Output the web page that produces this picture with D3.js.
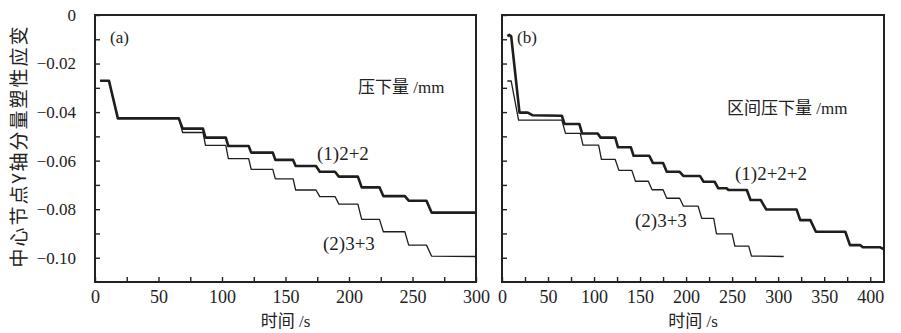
<!DOCTYPE html>
<html>
<head>
<meta charset="utf-8">
<script src="https://cdn.jsdelivr.net/npm/d3@7"></script>
<style>
  body { margin: 0; background: #fff; }
  svg { font-family: 'Liberation Serif', 'Times New Roman', serif; }
  text { fill: #222; }
</style>
</head>
<body>
<div id="chart"></div>
<script>
// panel (a): both runs step at the same times
const timeA = [4, 11, 18, 66, 69, 85, 87, 103, 105, 121, 123, 140, 142, 156, 158, 174, 177, 189, 192, 207, 210, 224, 227, 244, 247, 261, 265, 300];
const strainA22 = [-0.0271, -0.0271, -0.0426, -0.0426, -0.0468, -0.0468, -0.0505, -0.0505, -0.0540, -0.0540, -0.0567, -0.0567, -0.0597, -0.0597, -0.0622, -0.0622, -0.0646, -0.0646, -0.0666, -0.0666, -0.0710, -0.0710, -0.0746, -0.0746, -0.0765, -0.0765, -0.0814, -0.0814];
const strainA33 = [-0.0271, -0.0271, -0.0426, -0.0426, -0.0484, -0.0484, -0.0537, -0.0537, -0.0592, -0.0592, -0.0636, -0.0636, -0.0675, -0.0675, -0.0721, -0.0721, -0.0748, -0.0748, -0.0779, -0.0779, -0.0842, -0.0842, -0.0893, -0.0893, -0.0948, -0.0948, -0.0993, -0.0995];

// panel (b)
const timeB222 = [5.8, 8, 10, 19, 28, 33, 65, 68, 84, 87, 104, 107, 123, 126, 140, 143, 160, 164, 175, 179, 193, 197, 215, 219, 231, 235, 244, 246, 266, 270, 281, 287, 320, 324, 335, 341, 373, 378, 389, 392, 411, 415];
const strainB222 = [-0.0087, -0.0082, -0.0088, -0.0402, -0.0402, -0.0413, -0.0415, -0.0449, -0.0449, -0.0488, -0.0488, -0.0505, -0.0505, -0.0545, -0.0545, -0.0580, -0.0580, -0.0610, -0.0610, -0.0646, -0.0646, -0.0663, -0.0663, -0.0687, -0.0687, -0.0714, -0.0714, -0.0721, -0.0721, -0.0762, -0.0762, -0.0801, -0.0801, -0.0845, -0.0845, -0.0893, -0.0893, -0.0948, -0.0948, -0.0957, -0.0957, -0.0965];
const timeB33 = [5.8, 10, 18, 65, 69, 85, 88, 105, 108, 123, 127, 141, 145, 159, 163, 175, 179, 193, 197, 213, 217, 230, 233, 250, 253, 268, 271, 306];
const strainB33 = [-0.0272, -0.0272, -0.0433, -0.0433, -0.0488, -0.0488, -0.0536, -0.0536, -0.0595, -0.0595, -0.0640, -0.0640, -0.0685, -0.0685, -0.0720, -0.0720, -0.0755, -0.0755, -0.0787, -0.0787, -0.0838, -0.0838, -0.0902, -0.0902, -0.0952, -0.0952, -0.0993, -0.0995];

const xTicksA = [0, 50, 100, 150, 200, 250, 300];
const xTicksB = [0, 50, 100, 150, 200, 250, 300, 350, 400];

const serifFont = "'Liberation Serif', 'Times New Roman', serif";
const cjkFont = "'Noto Sans CJK SC', sans-serif";

const svg = d3.select("#chart").append("svg")
  .attr("width", 901)
  .attr("height", 333)
  .style("font-family", serifFont);

const plotTop = 15, plotBottom = 282;
const yScale = d3.scaleLinear().domain([-0.11, 0]).range([plotBottom, plotTop]);

// chinese part in the CJK face, units in the serif face
function mixedText(sel, cjkPart, latinPart, size) {
  sel.style("font-size", size + "px");
  sel.append("tspan").style("font-family", cjkFont).text(cjkPart);
  sel.append("tspan").style("font-family", serifFont).text(latinPart);
}

function drawPanel(opt) {
  const x = d3.scaleLinear().domain([0, opt.xMax]).range([opt.left, opt.right]);
  const g = svg.append("g");

  // minor ticks every 25 s, labels every 50
  const xAxis = d3.axisBottom(x)
    .tickValues(d3.range(0, opt.xMax + 1, 25))
    .tickSizeInner(-5)
    .tickSizeOuter(0)
    .tickPadding(8)
    .tickFormat((d) => (opt.xLabels.includes(d) ? d : ""));
  const gx = g.append("g")
    .attr("transform", "translate(0," + plotBottom + ")")
    .call(xAxis)
    .attr("font-family", null)
    .attr("font-size", null);
  gx.select(".domain").remove();
  gx.selectAll("line").attr("stroke", "#222").attr("stroke-width", 1.4);
  gx.selectAll("text").style("font-family", serifFont).style("font-size", "18px").attr("fill", "#222");

  const yAxis = d3.axisLeft(yScale)
    .tickValues(d3.range(0, 11).map((i) => -i / 100))
    .tickSizeInner(-5)
    .tickSizeOuter(0)
    .tickPadding(19)
    .tickFormat((d) => {
      if (!opt.yLabels) return "";
      const i = Math.round(-d * 100);
      if (i % 2) return "";
      return i === 0 ? "0" : d3.format(".2f")(d);
    });
  const gy = g.append("g")
    .attr("transform", "translate(" + opt.left + ",0)")
    .call(yAxis)
    .attr("font-family", null)
    .attr("font-size", null);
  gy.select(".domain").remove();
  gy.selectAll("line").attr("stroke", "#222").attr("stroke-width", 1.4);
  gy.selectAll("text").style("font-family", serifFont).style("font-size", "17px").attr("fill", "#222");

  g.append("rect")
    .attr("x", opt.left)
    .attr("y", plotTop)
    .attr("width", opt.right - opt.left)
    .attr("height", plotBottom - plotTop)
    .attr("fill", "none")
    .attr("stroke", "#222")
    .attr("stroke-width", 2);

  const line = d3.line()
    .x((d) => x(d[0]))
    .y((d) => yScale(d[1]));

  opt.series.forEach((s) => {
    g.append("path")
      .datum(d3.zip(s.t, s.v))
      .attr("fill", "none")
      .attr("stroke", "#1e1e1e")
      .attr("stroke-width", s.w)
      .attr("stroke-linejoin", "round")
      .attr("d", line);
  });

  g.append("text")
    .attr("x", opt.left + 15)
    .attr("y", 43)
    .style("font-family", serifFont)
    .style("font-size", "17px")
    .text(opt.tag);

  g.append("text")
    .attr("x", (opt.left + opt.right) / 2)
    .attr("y", 327)
    .attr("text-anchor", "middle")
    .call(mixedText, "时间", " /s", 17);

  g.append("text")
    .attr("x", opt.title.x)
    .attr("y", opt.title.y)
    .call(mixedText, opt.title.text, " /mm", 17);

  opt.notes.forEach((n) => {
    g.append("text")
      .attr("x", n.x)
      .attr("y", n.y)
      .style("font-family", serifFont)
      .style("font-size", "19px")
      .text(n.text);
  });
}

drawPanel({
  left: 95, right: 476, xMax: 300, xLabels: xTicksA, yLabels: true, tag: "(a)",
  series: [
    { t: timeA, v: strainA22, w: 2.6 },
    { t: timeA, v: strainA33, w: 1.3 }
  ],
  title: { x: 358, y: 93, text: "压下量" },
  notes: [
    { x: 317, y: 160, text: "(1)2+2" },
    { x: 323, y: 250, text: "(2)3+3" }
  ]
});

drawPanel({
  left: 502, right: 884, xMax: 415, xLabels: xTicksB, yLabels: false, tag: "(b)",
  series: [
    { t: timeB222, v: strainB222, w: 2.6 },
    { t: timeB33, v: strainB33, w: 1.3 }
  ],
  title: { x: 727, y: 114, text: "区间压下量" },
  notes: [
    { x: 735, y: 180, text: "(1)2+2+2" },
    { x: 635, y: 227, text: "(2)3+3" }
  ]
});

// shared y label
svg.append("text")
  .attr("transform", "translate(26,146) rotate(-90)")
  .attr("text-anchor", "middle")
  .style("font-family", cjkFont)
  .style("font-size", "19px")
  .style("letter-spacing", "2px")
  .text("中心节点Y轴分量塑性应变");
</script>
</body>
</html>
